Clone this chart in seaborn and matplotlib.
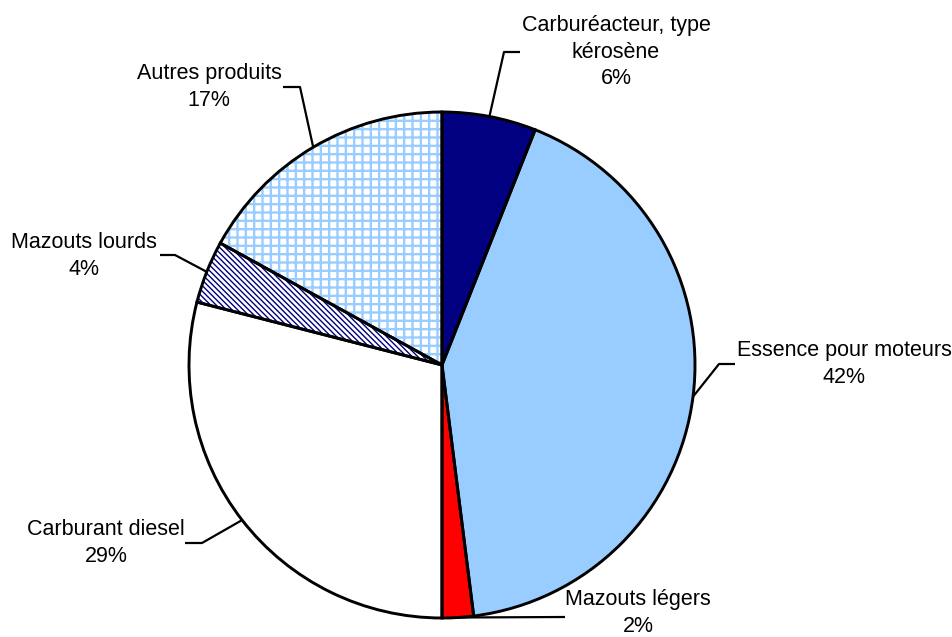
import numpy as np
import matplotlib
matplotlib.use('Agg')
import matplotlib.pyplot as plt
import seaborn as sns

sns.set_theme(style="white")
plt.rcParams['font.family'] = ['Liberation Sans', 'DejaVu Sans']
plt.rcParams['hatch.linewidth'] = 1.0

# Data (clockwise from top)
categories = ['Carburéacteur, type\nkérosène', 'Essence pour moteurs', 'Mazouts légers',
              'Carburant diesel', 'Mazouts lourds', 'Autres produits']
shares = [6, 42, 2, 29, 4, 17]
fill_colors = ['#000080', '#99CCFF', '#FF0000', '#FFFFFF', '#FFFFFF', '#FFFFFF']
hatches = [None, None, None, None, '\\\\\\\\\\\\', '++']
hatch_colors = [None, None, None, None, '#000080', '#99CCFF']
hatch_widths = [None, None, None, None, 1.0, 1.7]

# Layout in pixel units (y from top)
W, H = 953, 637
cx, cy, R = 442, 365, 253
label_pos = [(616, 52), (844, 364), (638, 613), (106, 543), (84, 256), (209, 87)]
elbow_pos = [(504, 52), (719, 364), (565, 617), (202, 543), (175, 255), (300, 87)]
line_end = [(520, 52), (735, 364), (565, 617), (185, 543), (160, 255), (283, 87)]


def fy(y):
    return H - y


fig = plt.figure(figsize=(W / 100, H / 100), dpi=100)
ax = fig.add_axes([0, 0, 1, 1])

# filled wedges with hatches
wedges, _ = ax.pie(shares, colors=fill_colors, startangle=90, counterclock=False,
                   center=(cx, fy(cy)), radius=R, wedgeprops=dict(linewidth=0))
for w, h, hc, hw in zip(wedges, hatches, hatch_colors, hatch_widths):
    if h:
        w.set_hatch(h)
        w.set_edgecolor(hc)
        w.set_linewidth(0)
        if hasattr(w, 'set_hatch_linewidth'):
            w.set_hatch_linewidth(hw)

# black outlines on top
ax.pie(shares, colors=['none'] * len(shares), startangle=90, counterclock=False,
       center=(cx, fy(cy)), radius=R,
       wedgeprops=dict(linewidth=2.1, edgecolor='black', facecolor='none'))

# leader lines and labels
cum = np.cumsum([0] + shares)
for i, cat in enumerate(categories):
    mid = (cum[i] + cum[i + 1]) / 2 / 100 * 2 * np.pi
    ax_x = cx + R * np.sin(mid)
    ax_y = cy - R * np.cos(mid)
    ex, ey = elbow_pos[i]
    lx, ly = line_end[i]
    ax.plot([ax_x, ex, lx], [fy(ax_y), fy(ey), fy(ly)], color='black', lw=1.6,
            solid_capstyle='butt', zorder=5)
    tx, ty = label_pos[i]
    ax.text(tx, fy(ty), f"{cat}\n{shares[i]}%", ha='center', va='center',
            multialignment='center', fontsize=15.5, linespacing=1.35, color='black')

ax.set_xlim(0, W)
ax.set_ylim(0, H)
ax.set_aspect('equal')
ax.axis('off')

fig.savefig('out.png', dpi=100)
